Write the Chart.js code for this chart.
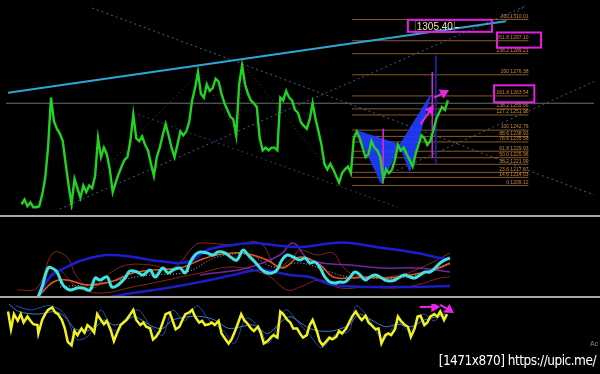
<!DOCTYPE html>
<html lang="en">
<head>
<meta charset="UTF-8">
<title>Gold H4 - harmonic butterfly</title>
<script src="https://cdn.jsdelivr.net/npm/chart.js@4"></script>
<style>
    html, body { margin: 0; padding: 0; background: #000; }
    body { width: 600px; height: 374px; position: relative; overflow: hidden; font-family: "Liberation Sans", Arial, sans-serif; }
    .pane { position: absolute; left: 0; width: 600px; }
    .pane canvas { display: block; }
    .sep { position: absolute; left: 0; width: 600px; height: 2px; background: #a8a8a8; }
    #stamp { position: absolute; right: 4px; top: 352px; color: #fff; font: 13.5px "DejaVu Sans Condensed", sans-serif; letter-spacing: -0.5px; }
    #ac { position: absolute; left: 590px; top: 340px; color: #8a8a8a; font: 7px "Liberation Sans", sans-serif; }
</style>
</head>
<body>
<div class="pane" style="top:0;height:216px"><canvas id="priceChart" width="600" height="216"></canvas></div>
<div class="sep" style="top:215px"></div>
<div class="pane" style="top:217px;height:80px"><canvas id="bandChart" width="600" height="80"></canvas></div>
<div class="sep" style="top:296px"></div>
<div class="pane" style="top:298px;height:76px"><canvas id="oscChart" width="600" height="76"></canvas></div>
<div id="ac">Ac</div>
<div id="stamp">[1471x870] https://upic.me/</div>

<script>
// ---- price pane (bars on x, price on y) ----
const priceStartBar = 5.3;
const closes = [
    1197.7, 1200.5, 1196.5, 1198.8, 1195.9, 1195.9, 1196.5, 1203.4, 1213.2, 1232.1,
    1262.5, 1248.2, 1243.6, 1240.7, 1236.1, 1222.3, 1209.1, 1197.7, 1213.2, 1207.4,
    1201.7, 1209.1, 1205.1, 1209.1, 1207.4, 1214.9, 1237.8, 1226.4, 1232.1, 1228.1,
    1218.9, 1205.1, 1210.9, 1216.0, 1220.6, 1224.6, 1226.4, 1236.1, 1252.2, 1237.8,
    1236.1, 1239.0, 1233.8, 1230.4, 1222.3, 1214.9, 1226.4, 1232.1, 1239.6, 1246.4,
    1239.6, 1232.1, 1226.4, 1233.8, 1241.9, 1239.6, 1241.9, 1247.6, 1260.8, 1268.3,
    1278.0, 1264.8, 1262.5, 1270.6, 1266.6, 1268.3, 1274.0, 1272.3, 1264.8, 1259.1,
    1255.1, 1251.0, 1249.3, 1239.6, 1270.6, 1282.0, 1270.6, 1264.8, 1260.8, 1259.1,
    1256.8, 1237.8, 1230.4, 1232.1, 1230.4, 1232.1, 1232.1, 1230.4, 1262.5, 1260.8,
    1266.6, 1262.5, 1260.8, 1255.1, 1253.3, 1247.6, 1245.3, 1243.6, 1249.3, 1259.1,
    1249.3, 1241.9, 1233.8, 1222.3, 1218.9, 1222.3, 1218.9, 1214.9, 1210.9, 1216.6,
    1218.9, 1220.6, 1216.6, 1237.8, 1241.9, 1237.8, 1232.1, 1226.4, 1228.1, 1236.1,
    1232.1, 1230.4, 1226.4, 1213.2, 1218.9, 1216.6, 1218.9, 1224.6, 1233.8, 1230.4,
    1232.1, 1228.1, 1224.6, 1220.6, 1228.1, 1233.8, 1239.6, 1237.8, 1233.8, 1236.1,
    1241.9, 1249.3, 1253.3, 1256.8, 1255.1, 1260.8
];

const fibLevels = ['300', '261.8', '238.2', '200', '161.8', '138.2', '127.2', '100', '88.6', '78.6', '61.8', '50.0', '38.2', '23.6', '14.6', '0'];
const fibPrices = [1310.01, 1297.10, 1289.21, 1276.38, 1263.54, 1255.66, 1251.96, 1242.76, 1238.93, 1235.58, 1229.93, 1225.96, 1221.99, 1217.07, 1214.03, 1209.12];
const fibFromBar = 117.7;
const fibToBar = 177.7;

const currentPrice = 1305.40;
const lastLine = 1259.1;

// trend lines: [bar, price] end points
const cyanTrend = [[0.7, 1265.4], [170, 1309.0]];
const cyanTrendExt = [[170, 1309.0], [176, 1317.5]];
const fallLine = [[29.3, 1317.0], [200, 1203.4]];
const riseLine = [[16.7, 1193.6], [176.7, 1318.2]];
const lowFallLine = [[43.3, 1253.3], [133.3, 1195.9]];
const lowRiseLine = [[126.7, 1213.2], [200, 1272.3]];
const zigzag = [[20.7, 1195.9], [65.7, 1278.0], [79, 1239.6], [80.7, 1282.6], [113.3, 1210.9]];

// butterfly X-A-B and B-C-D
const legXAB = [[119.3, 1242.4], [127.7, 1210.3], [134, 1233.8], [119.3, 1242.4]];
const legBCD = [[134, 1233.8], [137.3, 1217.8], [144.3, 1263.7], [134, 1233.8]];
const pinkMarkA = [[128.3, 1243.6], [128.3, 1210.3]];
const pinkMarkD = [[145, 1278.0], [145, 1226.0]];
const blueMarkD = [[146.2, 1288.0], [146.2, 1222.3]];
const arrowLow = [[141, 1246.4], [144.4, 1255.1]];
const arrowHigh = [[145.6, 1262.5], [148.9, 1265.4]];

// magenta frames: [fromBar, toBar, topPrice, bottomPrice]
const noteBoxes = [[136.7, 165.3, 1309.8, 1302.5], [167, 182, 1302.1, 1292.9], [166, 179.7, 1270.0, 1259.7]];

// ---- middle pane ----
const macdCyan = [[12.7,0],[14,10],[16,29],[17.3,29],[19,25],[21,12],[23.3,7],[25.7,9],[27.7,9],[30,7],[31.7,19],[33.3,17],[35.7,20],[37.3,10],[39.3,12],[41.7,19],[43.3,26],[45.7,25],[47.7,22],[50,27],[51.7,20],[54.3,29],[56,24],[57.7,27],[60,29],[61.7,24],[63.3,34],[65,42],[66.7,45],[69,44],[71,42],[72.7,45],[75,44],[77.3,39],[79,37],[81,47],[82.7,42],[85,35],[86.7,29],[88.3,25],[90.7,24],[92.3,27],[94,37],[95.7,42],[97.7,40],[100,37],[101.7,39],[103.3,34],[105,35],[106.7,29],[108.3,20],[110,15],[111.7,14],[113.3,15],[115,15],[116.7,20],[118.3,25],[120,22],[121.7,17],[123.3,20],[125,22],[126.7,20],[128.3,17],[130,16],[131.7,17],[133.3,20],[135,22],[136.7,20],[138.3,19],[140,22],[141.7,25],[143.3,25],[145,29],[146.7,34],[148.3,37],[150,39]];
const bandUpper = [[12.7,0],[16.7,20],[22.3,30],[27.7,37],[35.7,42],[44.3,40],[50,37],[55.7,35],[60,34],[64.3,37],[69,47],[77.7,52],[84.3,54],[91,52],[100,50],[111,54],[116.7,54],[127.7,49],[139,44],[146.7,39],[150,38]];
const bandLower = [[36.7,0],[44.3,4],[55.7,9],[66.7,15],[77.7,22],[86.7,27],[96.7,22],[103.3,20],[111,12],[133.3,10],[150,11]];
const emaOrange = [[13.3,2],[17.7,15],[22.3,17],[29,12],[36.7,15],[44.3,24],[51,27],[60,29],[66.7,37],[72.3,42],[81,44],[89,37],[94.3,29],[100,40],[106.7,32],[111,20],[116.7,19],[122.3,20],[129,19],[136.7,22],[144.3,27],[150,34]];
const envUpper = [[5.7,7],[12.3,9],[17.7,44],[22.3,40],[25.7,20],[31,9],[36.7,24],[42.3,32],[50,32],[57.7,29],[64.3,50],[66.7,54],[77.7,52],[86.7,54],[92.3,30],[97.7,40],[100,47],[105.7,42],[111,44],[114.3,30],[120,20],[133.3,22],[142.3,32],[150,44]];
const envLower = [[13.3,2],[19,27],[25.7,10],[33.3,4],[44.3,10],[55.7,17],[66.7,24],[77.7,30],[89,22],[95.7,7],[100,10],[106.7,17],[113.3,9],[122.3,10],[131,9],[139,12],[146.7,19],[150,20]];
const purpleLine = [[66.7,22],[82.3,29],[93.3,42],[97.7,54],[103.3,37],[116.7,32],[127.7,29],[139,29],[150,25]];
const signalDots = [[20,10],[33.3,14],[50,22],[62.3,25],[72.3,40],[83.3,42],[91,30],[100,34],[110,25],[116.7,20],[133.3,19],[143.3,25],[150,33]];

// ---- bottom pane ----
const yellowOsc = [[0.7,88.2],[1.7,60.5],[2.7,84.2],[4,73.7],[5,84.2],[6,71.1],[7.3,80.3],[8.3,73.7],[9.3,68.4],[10.7,67.1],[11,53.9],[12.3,75],[13.3,84.2],[14.3,90.8],[15.7,94.7],[16.7,86.8],[17.7,84.2],[19,75],[20,61.8],[21,40.8],[22.3,35.5],[23.3,57.9],[24.3,51.3],[25.7,61.8],[26.7,55.3],[27.7,67.1],[29,61.8],[30,55.3],[31,84.2],[32.3,75],[33.3,68.4],[34.3,73.7],[35.7,57.9],[36.7,42.1],[37.7,53.9],[39,67.1],[40,71.1],[41,75],[42.3,84.2],[43.3,90.8],[44.3,75],[45.7,67.1],[46.7,71.1],[47.7,64.5],[49,61.8],[50,44.7],[51,48.7],[52.3,57.9],[53.3,71.1],[54.3,84.2],[55.7,86.8],[56.7,73.7],[57.7,60.5],[59,64.5],[60,75],[61,84.2],[62.3,86.8],[63.3,90.8],[64.3,80.3],[65.7,71.1],[66.7,73.7],[67.7,67.1],[69,68.4],[70,71.1],[71,67.1],[72.3,73.7],[73.3,53.9],[74.3,47.4],[75.7,38.2],[76.7,44.7],[77.7,55.3],[79,71.1],[80,84.2],[81,75],[82.3,68.4],[83.3,61.8],[84.3,57.9],[85.7,64.5],[86.7,53.9],[87.7,38.2],[89,42.1],[90,47.4],[91,51.3],[92.3,47.4],[93.3,88.2],[94.3,84.2],[95.7,75],[96.7,71.1],[97.7,61.8],[99,61.8],[100,53.9],[101,47.4],[102.3,51.3],[103.3,67.1],[104.3,75],[105.7,57.9],[106.7,42.1],[107.7,35.5],[109,42.1],[110,47.4],[111,44.7],[112.3,48.7],[113.3,57.9],[114.3,53.9],[115.7,61.8],[116.7,71.1],[117.7,80.3],[119,88.2],[120,80.3],[121,75],[122.3,81.6],[123.3,71.1],[124.3,67.1],[125.7,60.5],[126.7,61.8],[127.7,38.2],[129,51.3],[130,53.9],[131,51.3],[132.3,60.5],[133.3,80.3],[134.3,73.7],[135.7,67.1],[136.7,64.5],[137.7,48.7],[139,61.8],[140,80.3],[141,81.6],[142.3,67.1],[143.3,71.1],[144.3,80.3],[145.7,84.2],[146.7,80.3],[147.7,88.2],[149,75],[150,84.2]];
const blueSlow = [[1,100],[4.3,88.2],[11,84.2],[16.7,88.2],[20,80.3],[23.3,61.8],[26.7,57.9],[30,61.8],[33.3,75],[36.7,67.1],[40,71.1],[43.3,80.3],[46.7,73.7],[50,64.5],[53.3,61.8],[56.7,75],[62.3,80.3],[66.7,80.3],[71,75],[75.7,61.8],[80,64.5],[84.3,67.1],[89,53.9],[93.3,71.1],[96.7,80.3],[100,71.1],[103.3,61.8],[106.7,57.9],[111,57.9],[116.7,67.1],[120,84.2],[124.3,75],[129,64.5],[133.3,68.4],[137.7,64.5],[142.3,75],[146.7,80.3],[149.3,84.2]];
const blueFast = [[3.3,97.4],[8.3,90.8],[15,97.4],[20,84.2],[24,44.7],[28.3,51.3],[32.3,90.8],[36.7,57.9],[40.7,77.6],[45,90.8],[49.3,64.5],[53.3,51.3],[56.7,90.8],[60.7,73.7],[65,97.4],[69.3,73.7],[74,57.9],[77.7,38.2],[81.7,77.6],[86,64.5],[89.3,38.2],[95,90.8],[99,73.7],[103.3,51.3],[107.3,31.6],[111.7,51.3],[116.7,57.9],[119,97.4],[123.3,77.6],[128.3,44.7],[133.3,71.1],[137.3,57.9],[141.7,84.2],[145.7,73.7],[149.3,90.8]];
const oscMid = 50;
const oscArrowA = [[140.7, 95.4], [145.7, 95.4]];
const oscArrowB = [[147.7, 98.7], [150.7, 90.8]];

const pts = arr => arr.map(p => ({ x: p[0], y: p[1] }));

function seg(data, color, width, extra) {
    return Object.assign({
        data: pts(data),
        borderColor: color,
        borderWidth: width,
        pointRadius: 0,
        fill: false,
        tension: 0
    }, extra || {});
}

function arrow(data, color, turn) {
    return seg(data, color, 2, {
        pointStyle: 'triangle',
        pointRadius: [0, 4],
        pointRotation: [0, turn],
        pointBackgroundColor: color,
        pointBorderColor: color,
        order: 0
    });
}

function paneOptions(yMin, yMax) {
    return {
        responsive: false,
        devicePixelRatio: 1,
        animation: false,
        layout: { padding: 0 },
        plugins: { legend: { display: false }, tooltip: { enabled: false } },
        scales: {
            x: { type: 'linear', min: 0, max: 200, display: false },
            y: { min: yMin, max: yMax, display: false }
        }
    };
}

const priceNotes = {
    id: 'priceNotes',
    afterDatasetsDraw(chart) {
        const { ctx, scales: { x, y } } = chart;
        ctx.save();
        // fibo labels
        ctx.font = '5px "Liberation Sans", sans-serif';
        ctx.fillStyle = '#c98a3e';
        ctx.textAlign = 'right';
        ctx.textBaseline = 'bottom';
        fibLevels.forEach((lv, i) => {
            ctx.fillText(lv + ' ' + fibPrices[i].toFixed(2), x.getPixelForValue(fibToBar), y.getPixelForValue(fibPrices[i]) - 0.5);
        });
        // current price tag
        const tx = x.getPixelForValue(139.7), ty = y.getPixelForValue(currentPrice);
        ctx.font = '10px "Liberation Sans", sans-serif';
        ctx.textAlign = 'left';
        ctx.textBaseline = 'middle';
        const w = ctx.measureText(currentPrice.toFixed(2)).width;
        ctx.strokeStyle = '#5a5a3a';
        ctx.lineWidth = 1;
        ctx.strokeRect(tx - 1.5, ty - 6.5, w + 3, 12);
        ctx.fillStyle = '#e8e8a6';
        ctx.fillText(currentPrice.toFixed(2), tx, ty);
        ctx.fillRect(tx + w + 2, ty, 4, 1);
        // magenta frames
        ctx.strokeStyle = '#e21fe2';
        ctx.lineWidth = 2;
        noteBoxes.forEach(b => {
            const x0 = x.getPixelForValue(b[0]), x1 = x.getPixelForValue(b[1]);
            const y0 = y.getPixelForValue(b[2]), y1 = y.getPixelForValue(b[3]);
            ctx.strokeRect(x0, y0, x1 - x0, y1 - y0);
        });
        ctx.restore();
    }
};

const dotted = { borderDash: [2, 3] };

const priceSets = [
    seg(closes.map((v, i) => [priceStartBar + i, v]), '#22d422', 2.4, { order: 1 }),
    arrow(arrowLow, '#e626e6', 33.7),
    arrow(arrowHigh, '#e626e6', 63.4),
    seg(pinkMarkA, '#d02ad0', 1, { order: 2 }),
    seg(pinkMarkD, '#d02ad0', 1, { order: 2 }),
    seg(blueMarkD, '#2020b0', 1, { order: 2 }),
    seg(legXAB, '#1f3cff', 1, { fill: 'shape', backgroundColor: 'rgba(31,60,255,0.92)', order: 3 }),
    seg(legBCD, '#1f3cff', 1, { fill: 'shape', backgroundColor: 'rgba(31,60,255,0.92)', order: 3 }),
    seg(cyanTrend, '#2ea6d8', 2, { order: 4 }),
    seg(cyanTrendExt, '#1f6f90', 1, Object.assign({ order: 4 }, dotted)),
    seg(fallLine, '#46637f', 1, Object.assign({ order: 6 }, dotted)),
    seg(riseLine, '#3d5f86', 1, Object.assign({ order: 6 }, dotted)),
    seg(lowFallLine, '#2b3f66', 1, Object.assign({ order: 6 }, dotted)),
    seg(lowRiseLine, '#43607e', 1, Object.assign({ order: 6 }, dotted)),
    seg(zigzag, '#7a2a1e', 1, { order: 6, borderDash: [1, 3] }),
    seg([[0, lastLine], [200, lastLine]], '#6e6e6e', 1, { order: 7 })
];
fibPrices.forEach(p => {
    priceSets.push(seg([[fibFromBar, p], [fibToBar, p]], '#8a5826', 1, { order: 5 }));
});

new Chart(document.getElementById('priceChart'), {
    type: 'scatter',
    data: { datasets: priceSets.map(d => Object.assign({ showLine: true }, d)) },
    options: paneOptions(1194.2, 1318.2),
    plugins: [priceNotes]
});

new Chart(document.getElementById('bandChart'), {
    type: 'scatter',
    data: {
        datasets: [
            seg(macdCyan, '#3fe3e3', 3, { tension: 0.4 }),
            seg(bandUpper, '#1c1cd2', 2.5, { tension: 0.4 }),
            seg(bandLower, '#1c1cc0', 2.5, { tension: 0.4 }),
            seg(emaOrange, '#de5a22', 1.5, { tension: 0.4 }),
            seg(purpleLine, '#7624a8', 1.5, { tension: 0.4 }),
            seg(envUpper, '#8c2414', 1, { tension: 0.4 }),
            seg(envLower, '#8c2414', 1, { tension: 0.4 }),
            seg(signalDots, '#d6a8a0', 1, { tension: 0.4, borderDash: [1, 2] })
        ].map(d => Object.assign({ showLine: true }, d))
    },
    options: paneOptions(0, 80)
});

new Chart(document.getElementById('oscChart'), {
    type: 'scatter',
    data: {
        datasets: [
            arrow(oscArrowA, '#e626e6', 90),
            arrow(oscArrowB, '#e626e6', 124),
            seg(yellowOsc, '#f2f21e', 2.5, { order: 1 }),
            seg(blueSlow, '#3c7cc8', 1, { order: 2, tension: 0.3 }),
            seg(blueFast, '#2a4aa2', 1, { order: 2, tension: 0.3 }),
            seg([[0, oscMid], [200, oscMid]], '#222226', 1, { order: 3, borderDash: [1, 3] })
        ].map(d => Object.assign({ showLine: true }, d))
    },
    options: paneOptions(0, 100)
});
</script>
</body>
</html>
